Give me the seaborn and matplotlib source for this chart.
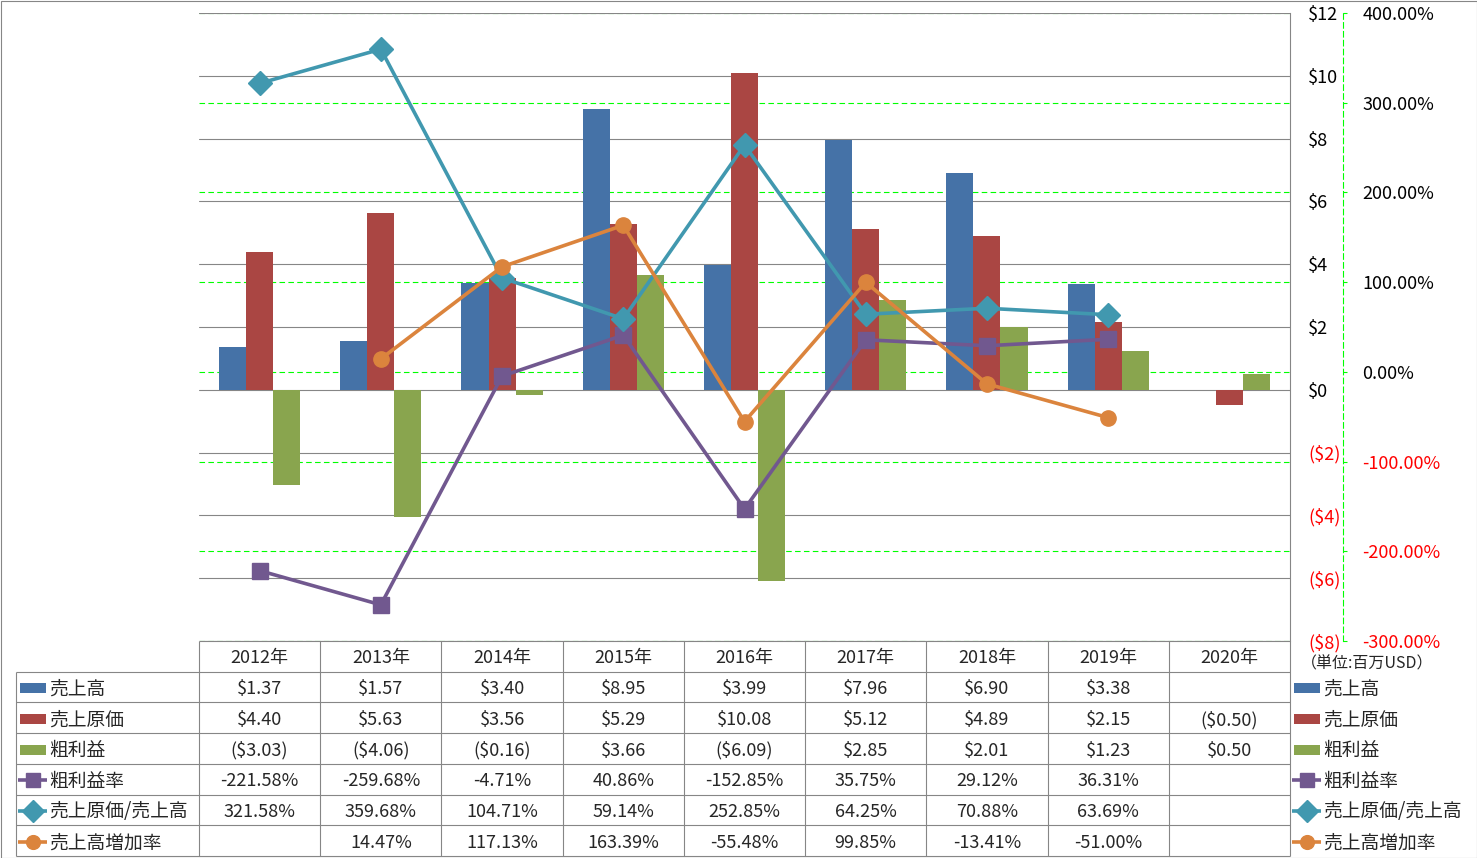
import numpy as np
import pandas as pd
import matplotlib
matplotlib.use("Agg")
import matplotlib.pyplot as plt
from matplotlib.ticker import FuncFormatter, FixedLocator
import seaborn as sns

sns.set_theme(style="white")
plt.rcParams['font.family'] = ['Noto Sans CJK JP', 'DejaVu Sans']

# -------------------------------
# Data
# -------------------------------
years = ["2012年", "2013年", "2014年", "2015年", "2016年", "2017年", "2018年", "2019年", "2020年"]
sales = [1.37, 1.57, 3.40, 8.95, 3.99, 7.96, 6.90, 3.38, np.nan]
cost = [4.40, 5.63, 3.56, 5.29, 10.08, 5.12, 4.89, 2.15, -0.50]
gross = [-3.03, -4.06, -0.16, 3.66, -6.09, 2.85, 2.01, 1.23, 0.50]
gross_rate = [-221.58, -259.68, -4.71, 40.86, -152.85, 35.75, 29.12, 36.31, np.nan]
cost_ratio = [321.58, 359.68, 104.71, 59.14, 252.85, 64.25, 70.88, 63.69, np.nan]
growth = [np.nan, 14.47, 117.13, 163.39, -55.48, 99.85, -13.41, -51.00, np.nan]

bar_names = ["売上高", "売上原価", "粗利益"]
line_names = ["粗利益率", "売上原価/売上高", "売上高増加率"]
bar_colors = ["#4572A7", "#AA4643", "#89A54E"]
line_colors = ["#71588F", "#4198AF", "#DB843D"]
line_markers = ["s", "D", "o"]
line_ms = [11, 12, 11]

money_ticks = np.arange(-8, 13, 2)
pct_ticks = np.arange(-300, 401, 100)

W, H = 1477, 858
x0, x1, y0, y1 = 199, 1290, 13, 641   # plot area in pixels
grey = "#868686"
fs = 13

df = pd.DataFrame({"年": years * 3,
                   "系列": sum([[n] * len(years) for n in bar_names], []),
                   "値": sales + cost + gross}).dropna()

fig = plt.figure(figsize=(W / 100, H / 100), dpi=100)
rect = [x0 / W, 1 - y1 / H, (x1 - x0) / W, (y1 - y0) / H]

# green grid + secondary axis (drawn at the back)
axg = fig.add_axes(rect)
ax = fig.add_axes(rect, sharex=axg)
ax2 = fig.add_axes(rect, sharex=axg)
axg.set_zorder(0)
ax.set_zorder(1)
ax2.set_zorder(2)
ax.patch.set_visible(False)
ax2.patch.set_visible(False)

# -------------------------------
# Bars
# -------------------------------
sns.barplot(data=df, x="年", y="値", hue="系列", order=years, hue_order=bar_names,
            palette=bar_colors, saturation=1, width=0.67, gap=0, errorbar=None,
            legend=False, linewidth=0, ax=ax)
ax.set_xlabel("")
ax.set_ylabel("")
ax.set_xlim(-0.5, len(years) - 0.5)
ax.set_ylim(-8, 12)
ax.yaxis.set_major_locator(FixedLocator(money_ticks))
ax.yaxis.set_major_formatter(FuncFormatter(lambda v, p: f"${v:.0f}" if v >= 0 else f"(${-v:.0f})"))
ax.yaxis.tick_right()
ax.tick_params(axis="y", length=0, pad=13, labelsize=fs, labelcolor="black")
ax.tick_params(axis="x", length=0, labelbottom=False)
ax.set_axisbelow(True)
ax.grid(axis="y", color=grey, lw=0.8)
ax.grid(axis="x", visible=False)
for s in ["left", "top", "bottom"]:
    ax.spines[s].set_visible(False)
ax.spines["right"].set_color(grey)
ax.spines["right"].set_linewidth(0.8)
for v, lab in zip(money_ticks, ax.get_yticklabels()):
    lab.set_color("red" if v < 0 else "black")

# -------------------------------
# Secondary axis
# -------------------------------
axg.set_ylim(-300, 400)
axg.yaxis.set_major_locator(FixedLocator(pct_ticks))
axg.yaxis.set_major_formatter(FuncFormatter(lambda v, p: f"{v:.2f}%"))
axg.yaxis.tick_right()
axg.tick_params(axis="y", length=3, width=0.8, color="#00ff00", direction="out", pad=11,
                labelsize=fs)
axg.tick_params(axis="x", length=0, labelbottom=False)
axg.grid(axis="y", color="#00ff00", lw=0.8, ls=(0, (5, 3)))
axg.grid(axis="x", visible=False)
for s in ["left", "top", "bottom"]:
    axg.spines[s].set_visible(False)
axg.spines["right"].set_position(("axes", (1343 - x0) / (x1 - x0)))
axg.spines["right"].set_color("#00ff00")
axg.spines["right"].set_linestyle((0, (5, 3)))
axg.spines["right"].set_linewidth(0.8)
for v, lab in zip(pct_ticks, axg.get_yticklabels()):
    lab.set_color("red" if v < 0 else "black")

# -------------------------------
# Lines
# -------------------------------
xpos = np.arange(len(years))
for vals, c, m, ms in zip([gross_rate, cost_ratio, growth], line_colors, line_markers, line_ms):
    ax2.plot(xpos, vals, color=c, lw=2.6, marker=m, ms=ms, mec=c, mew=1)
ax2.set_ylim(-300, 400)
ax2.axis("off")

# -------------------------------
# Data table
# -------------------------------
tab = fig.add_axes([0, 0, 1, 1])
tab.set_zorder(5)
tab.patch.set_visible(False)
tab.set_xlim(0, W)
tab.set_ylim(H, 0)
tab.axis("off")

col_w = (x1 - x0) / len(years)
cols = [x0 + col_w * i for i in range(len(years) + 1)]
row_h = (856 - y1) / 7
rows = [y1 + row_h * i for i in range(8)]

tab.hlines(rows[0], x0, x1, color=grey, lw=0.8)
tab.hlines(rows[1:], 16, x1, color=grey, lw=0.8)
tab.vlines(cols, rows[0], rows[-1], color=grey, lw=0.8)
tab.vlines(16, rows[1], rows[-1], color=grey, lw=0.8)


def money(v):
    if np.isnan(v):
        return ""
    return f"${v:.2f}" if v >= 0 else f"(${-v:.2f})"


def pct(v):
    return "" if np.isnan(v) else f"{v:.2f}%"


for i, y in enumerate(years):
    tab.text((cols[i] + cols[i + 1]) / 2, (rows[0] + rows[1]) / 2 + 2, y,
             ha="center", va="center", fontsize=fs)

table_rows = [[money(v) for v in sales], [money(v) for v in cost], [money(v) for v in gross],
              [pct(v) for v in gross_rate], [pct(v) for v in cost_ratio], [pct(v) for v in growth]]
for r, texts in enumerate(table_rows):
    yc = (rows[r + 1] + rows[r + 2]) / 2 + 2
    for i, t in enumerate(texts):
        tab.text((cols[i] + cols[i + 1]) / 2, yc, t, ha="center", va="center", fontsize=fs)

# legend keys (left column and right side)
names = bar_names + line_names
for r, name in enumerate(names):
    yc = (rows[r + 1] + rows[r + 2]) / 2 + 1
    for kx in [18, 1292]:
        if r < 3:
            tab.add_patch(plt.Rectangle((kx + 2, yc - 5), 26, 10, color=bar_colors[r], lw=0))
        else:
            c = line_colors[r - 3]
            tab.plot([kx, kx + 29], [yc, yc], color=c, lw=2.6, solid_capstyle="butt")
            tab.plot([kx + 14.5], [yc], marker=line_markers[r - 3], color=c,
                     ms=line_ms[r - 3] * 0.9, mec=c)
        tab.text(kx + 31, yc + 1, name, ha="left", va="center", fontsize=13.5)

tab.text(1301, 664, "（単位:百万USD）", ha="left", va="center", fontsize=11.5)

# outer border
tab.add_patch(plt.Rectangle((0.5, 0.5), W - 1, H - 1, fill=False, ec=grey, lw=0.8))

fig.savefig("out.png", dpi=100)
